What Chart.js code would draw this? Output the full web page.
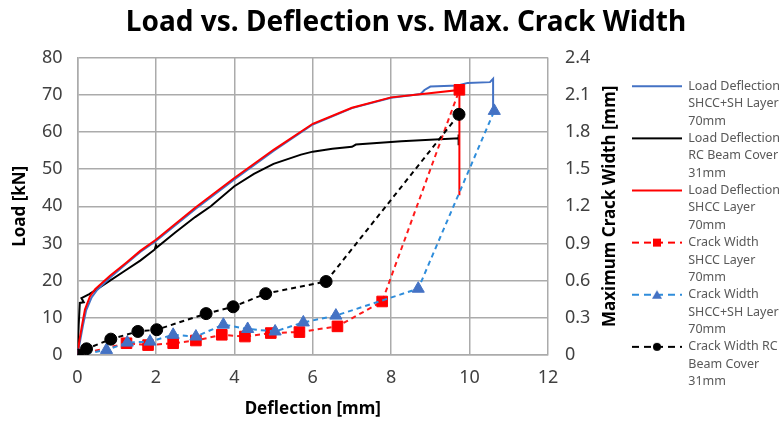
<!DOCTYPE html>
<html>
<head>
<meta charset="utf-8">
<title>Load vs. Deflection vs. Max. Crack Width</title>
<script src="https://cdn.jsdelivr.net/npm/chart.js@4.4.1/dist/chart.umd.min.js"></script>
<style>
  body { margin: 0; background: #fff; }
  #chart { display: block; }
</style>
</head>
<body>
<canvas id="chart" width="782" height="423"></canvas>
<script>
// load-deflection curves: deflection [mm] / load [kN]
const loadShX = [0, 0.07, 0.14, 0.22, 0.36, 0.5, 0.85, 1.25, 1.6, 2, 3, 4, 5, 6, 7, 8, 8.75, 8.85, 9, 9.7, 9.95, 10.52, 10.6, 10.6];
const loadShY = [0, 4, 8, 12, 15.5, 17.5, 21, 24.6, 27.7, 30.7, 39.2, 47.2, 54.9, 62, 66.4, 69.2, 70.2, 71.3, 72.2, 72.5, 73.2, 73.4, 74.3, 64.8];

const loadRcX = [0, 0.03, 0.06, 0.16, 0.1, 0.3, 0.45, 0.8, 1.2, 1.6, 1.97, 2, 2.02, 2.5, 3, 3.4, 4, 4.5, 5, 5.7, 6, 6.5, 7, 7.1, 8.26, 9.72, 9.72, 9.72];
const loadRcY = [0, 8, 14, 14.2, 15.3, 16.4, 17.4, 19.8, 22.6, 25.4, 28.4, 29.5, 28.9, 33, 37.1, 40, 45.4, 48.7, 51.4, 53.9, 54.7, 55.5, 56, 56.6, 57.5, 58.3, 59.3, 56.4];

const loadShccX = [0, 0.05, 0.11, 0.19, 0.32, 0.45, 0.83, 1.25, 1.6, 2, 3, 4, 5, 6, 7, 8, 8.8, 9.74, 9.74];
const loadShccY = [0, 4, 7.7, 12.2, 15.8, 17.7, 21.3, 24.9, 28, 31, 39.6, 47.6, 55.2, 62.2, 66.5, 69.3, 70.2, 71.3, 43];

// crack width curves: deflection [mm] / max crack width [mm]
const crackShccX = [0, 1.25, 1.8, 2.44, 3.02, 3.68, 4.27, 4.93, 5.66, 6.63, 7.77, 9.74];
const crackShccY = [0, 0.095, 0.08, 0.095, 0.117, 0.163, 0.149, 0.177, 0.185, 0.231, 0.432, 2.14];

const crackShX = [0, 0.74, 1.27, 1.85, 2.44, 3.02, 3.72, 4.34, 5.04, 5.76, 6.59, 8.69, 10.63];
const crackShY = [0, 0.041, 0.1, 0.108, 0.163, 0.149, 0.245, 0.21, 0.19, 0.263, 0.318, 0.535, 1.97];

const crackRcX = [0, 0.23, 0.85, 1.54, 2.02, 3.28, 3.97, 4.8, 6.34, 9.73];
const crackRcY = [0, 0.05, 0.128, 0.19, 0.204, 0.334, 0.389, 0.495, 0.593, 1.942];

const legendNames = [
  ["Load Deflection", "SHCC+SH Layer", "70mm"],
  ["Load Deflection", "RC Beam Cover", "31mm"],
  ["Load Deflection", "SHCC Layer", "70mm"],
  ["Crack Width", "SHCC Layer", "70mm"],
  ["Crack Width", "SHCC+SH Layer", "70mm"],
  ["Crack Width RC", "Beam Cover", "31mm"]
];

const gridColor = "#ababab";
const tickColor = "#404040";
const fontFam = "'Noto Sans', sans-serif";

function pts(xs, ys) {
  return xs.map((x, i) => ({ x: x, y: ys[i] }));
}

// little canvas used as legend sample: line with optional marker
function makeIcon(color, dashed, marker, markerColor) {
  const c = document.createElement("canvas");
  c.width = 50;
  c.height = 14;
  const g = c.getContext("2d");
  g.strokeStyle = color;
  g.lineWidth = 2;
  if (dashed) g.setLineDash([7, 5]);
  g.beginPath();
  g.moveTo(0, 7);
  g.lineTo(50, 7);
  g.stroke();
  g.fillStyle = markerColor;
  if (marker === "rect") {
    g.fillRect(21, 3, 8, 8);
  } else if (marker === "triangle") {
    g.beginPath();
    g.moveTo(25, 2.5);
    g.lineTo(30, 11);
    g.lineTo(20, 11);
    g.closePath();
    g.fill();
  } else if (marker === "circle") {
    g.beginPath();
    g.arc(25, 7, 4, 0, Math.PI * 2);
    g.fill();
  }
  return c;
}

const legendIcons = [
  makeIcon("#4472c4", false),
  makeIcon("#000000", false),
  makeIcon("#ff0000", false),
  makeIcon("#ff0000", true, "rect", "#ff0000"),
  makeIcon("#2f8ddb", true, "triangle", "#4472c4"),
  makeIcon("#000000", true, "circle", "#000000")
];

// right axis title reads bottom to top, so draw it here
const rightTitle = {
  id: "rightTitle",
  afterDraw(chart) {
    const { ctx, chartArea } = chart;
    const s = chart.scales.y2;
    ctx.save();
    ctx.translate(s.right - 22, (chartArea.top + chartArea.bottom) / 2);
    ctx.rotate(-Math.PI / 2);
    ctx.font = "bold 17px " + fontFam;
    ctx.fillStyle = "#000";
    ctx.textAlign = "center";
    ctx.textBaseline = "middle";
    ctx.fillText("Maximum Crack Width [mm]", 0, 0);
    ctx.restore();
  }
};

const lineDs = (label, data, color, order) => ({
  label, data, yAxisID: "y", showLine: true, borderColor: color, borderWidth: 2,
  pointRadius: 0, pointHoverRadius: 0, tension: 0, order
});

const crackDs = (label, data, lineColor, style, radius, fill, order) => ({
  label, data, yAxisID: "y2", showLine: true, borderColor: lineColor, borderWidth: 2,
  borderDash: [5, 4], pointStyle: style, pointRadius: radius, pointBackgroundColor: fill,
  pointBorderColor: fill, pointBorderWidth: 1, tension: 0, order
});

new Chart(document.getElementById("chart"), {
  type: "scatter",
  data: {
    datasets: [
      lineDs("Load Deflection SHCC+SH Layer 70mm", pts(loadShX, loadShY), "#4472c4", 4),
      lineDs("Load Deflection RC Beam Cover 31mm", pts(loadRcX, loadRcY), "#000000", 5),
      lineDs("Load Deflection SHCC Layer 70mm", pts(loadShccX, loadShccY), "#ff0000", 3),
      crackDs("Crack Width SHCC Layer 70mm", pts(crackShccX, crackShccY), "#ff1a1a", "rect", 7.5, "#ff0000", 2),
      crackDs("Crack Width SHCC+SH Layer 70mm", pts(crackShX, crackShY), "#2f8ddb", "triangle", 7, "#4472c4", 1),
      crackDs("Crack Width RC Beam Cover 31mm", pts(crackRcX, crackRcY), "#000000", "circle", 6, "#000000", 0)
    ]
  },
  options: {
    responsive: false,
    animation: false,
    devicePixelRatio: 1,
    layout: { padding: { left: 30, right: 0, top: 0, bottom: 0 } },
    plugins: {
      title: {
        display: true,
        text: "Load vs. Deflection vs. Max. Crack Width",
        color: "#000",
        font: { family: fontFam, size: 28, weight: "bold" },
        padding: { top: 6, bottom: 18 }
      },
      legend: {
        position: "right",
        align: "start",
        maxWidth: 150,
        // blank title only pushes the items down to line up with the plot
        title: { display: true, text: " ", font: { size: 10 }, padding: { top: 68, bottom: 0 } },
        labels: {
          usePointStyle: true,
          pointStyleWidth: 50,
          padding: 0,
          color: "#595959",
          font: { family: fontFam, size: 12.5, lineHeight: 1.39 },
          generateLabels: chart => chart.data.datasets.map((ds, i) => ({
            text: legendNames[i],
            pointStyle: legendIcons[i],
            fontColor: "#595959",
            fillStyle: "transparent",
            strokeStyle: "transparent",
            lineWidth: 0,
            hidden: false,
            datasetIndex: i
          }))
        }
      },
      tooltip: { enabled: false }
    },
    scales: {
      x: {
        type: "linear",
        min: 0,
        max: 12,
        ticks: { stepSize: 2, padding: 12, color: tickColor, font: { family: fontFam, size: 18 } },
        grid: { color: gridColor, lineWidth: 1.5, drawTicks: false },
        border: { color: gridColor, width: 1.5 },
        title: {
          display: true, text: "Deflection [mm]", color: "#000",
          font: { family: fontFam, size: 17, weight: "bold" }, padding: { top: 0, bottom: 4 }
        },
        afterFit: s => { s.height = 68; }
      },
      y: {
        position: "left",
        min: 0,
        max: 80,
        ticks: { stepSize: 10, padding: 15, color: tickColor, font: { family: fontFam, size: 18 } },
        grid: { color: gridColor, lineWidth: 1.5, drawTicks: false },
        border: { color: gridColor, width: 1.5 },
        title: {
          display: true, text: "Load [kN]", color: "#000",
          font: { family: fontFam, size: 17, weight: "bold" }, padding: { top: -20, bottom: 0 }
        },
        afterFit: s => { s.width = 47.5; }
      },
      y2: {
        position: "right",
        min: 0,
        max: 2.4,
        ticks: {
          stepSize: 0.3, padding: 17, color: tickColor, font: { family: fontFam, size: 18 },
          callback: v => (v === 0 ? "0" : v.toFixed(1))
        },
        grid: { drawOnChartArea: false, drawTicks: false },
        border: { display: false },
        afterFit: s => { s.width = 84; }
      }
    }
  },
  plugins: [rightTitle]
});
</script>
</body>
</html>
